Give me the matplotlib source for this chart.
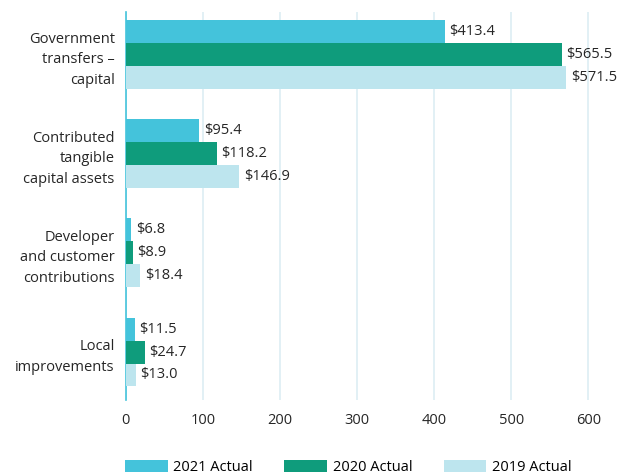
import numpy as np
import matplotlib.pyplot as plt

categories = ["Government\ntransfers \u2013\ncapital",
              "Contributed\ntangible\ncapital assets",
              "Developer\nand customer\ncontributions",
              "Local\nimprovements"]
series_names = ["2021 Actual", "2020 Actual", "2019 Actual"]
values_2021 = [413.4, 95.4, 6.8, 11.5]
values_2020 = [565.5, 118.2, 8.9, 24.7]
values_2019 = [571.5, 146.9, 18.4, 13.0]
x_ticks = [0, 100, 200, 300, 400, 500, 600]

colors = ["#44c3db", "#0f9c7c", "#bde5ee"]


def main():
    plt.rcParams['font.family'] = ['Open Sans', 'DejaVu Sans']
    fig = plt.figure(figsize=(6.2, 4.74), dpi=100)
    ax = fig.add_axes([0.203, 0.156, 0.797, 0.819])

    y = np.arange(len(categories))
    h = 0.232
    all_series = [values_2021, values_2020, values_2019]
    for i, (vals, name) in enumerate(zip(all_series, series_names)):
        pos = y + (i - 1) * h
        ax.barh(pos, vals, height=h, color=colors[i], label=name, zorder=3)
        for p, v in zip(pos, vals):
            ax.text(v + 6, p, f"${v:.1f}", va="center", ha="left",
                    fontsize=10.5, color="#262626", zorder=4)

    ax.set_ylim(3.485, -0.434)
    ax.set_xlim(0, 641)
    ax.set_yticks(y)
    ax.set_yticklabels(categories, fontsize=10.5, color="#262626",
                       linespacing=1.5)
    ax.set_xticks(x_ticks)
    ax.set_xticklabels([str(t) for t in x_ticks], fontsize=10.5,
                       color="#262626")
    ax.tick_params(length=0, pad=9)
    ax.tick_params(axis="y", pad=8)
    ax.grid(axis="x", color="#ddeef3", linewidth=1.2, zorder=0)
    for s in ["top", "right", "bottom"]:
        ax.spines[s].set_visible(False)
    ax.spines["left"].set_color("#44c3db")
    ax.spines["left"].set_linewidth(1.2)

    fig.legend(loc="lower left", bbox_to_anchor=(0.181, -0.03), ncol=3,
               frameon=False, fontsize=10.5, handlelength=2.9,
               handleheight=0.9, handletextpad=0.4, columnspacing=2.15)

    plt.savefig("out.png")
    plt.close()


if __name__ == "__main__":
    main()
